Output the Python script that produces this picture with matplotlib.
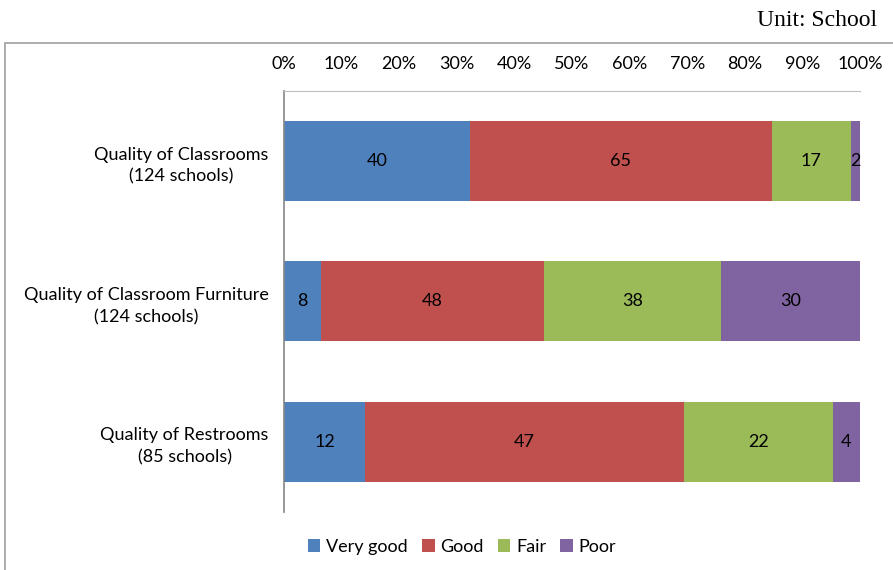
import matplotlib.pyplot as plt
from matplotlib.patches import Rectangle
from matplotlib.transforms import ScaledTranslation
import numpy as np

plt.rcParams['font.family'] = ['Lato', 'DejaVu Sans']

# school counts per rating
categories = ["Quality of Classrooms\n(124 schools)",
              "Quality of Classroom Furniture\n(124 schools)",
              "Quality of Restrooms\n(85 schools)"]
ratings = ["Very good", "Good", "Fair", "Poor"]
very_good = [40, 8, 12]
good = [65, 48, 47]
fair = [17, 38, 22]
poor = [2, 30, 4]
colors = ["#4F81BD", "#C0504D", "#9BBB59", "#8064A2"]

counts = np.array([very_good, good, fair, poor], dtype=float)
totals = counts.sum(axis=0)
shares = counts / totals * 100

fs = 13

fig = plt.figure(figsize=(8.93, 5.70), dpi=100)
ax = fig.add_axes([0.318, 0.1018, 0.645, 0.7386])

ypos = np.arange(len(categories))
left = np.zeros(len(categories))
for i in range(len(ratings)):
    bars = ax.barh(ypos, shares[i], left=left, height=0.57, color=colors[i],
                   label=ratings[i])
    for j, b in enumerate(bars):
        ax.text(left[j] + shares[i][j] / 2, ypos[j], str(int(counts[i][j])),
                ha="center", va="center", fontsize=fs, color="black")
    left += shares[i]

ax.set_xlim(0, 100)
ax.set_ylim(2.5, -0.5)
ax.set_xticks(np.arange(0, 101, 10))
ax.set_xticklabels([f"{v}%" for v in range(0, 101, 10)], fontsize=fs)
ax.xaxis.tick_top()
ax.tick_params(axis="x", length=0, pad=14)
ax.set_yticks(ypos)
ax.set_yticklabels(categories, fontsize=fs)
# nudge the two-line category labels up a few pixels
shift = ScaledTranslation(0, 3.5 / 100, fig.dpi_scale_trans)
for t in ax.get_yticklabels():
    t.set_multialignment("center")
    t.set_linespacing(1.45)
    t.set_transform(t.get_transform() + shift)
ax.tick_params(axis="y", length=0, pad=11)

ax.spines["right"].set_visible(False)
ax.spines["bottom"].set_visible(False)
ax.spines["top"].set_color("#BFBFBF")
ax.spines["left"].set_color("#868686")
ax.spines["left"].set_linewidth(1.2)

fig.legend(loc="center", bbox_to_anchor=(462 / 893, 1 - 547 / 570), ncol=4,
           frameon=False, fontsize=fs, handlelength=0.7, handleheight=0.7,
           handletextpad=0.3, columnspacing=0.8)

# outer chart frame
fig.patches.append(Rectangle((5 / 893, -0.1), 1.2, 1 - 43 / 570 + 0.1,
                             transform=fig.transFigure, fill=False,
                             edgecolor="#A0A0A0", linewidth=1.2))

fig.text(877 / 893, 1 - 20 / 570, "Unit: School", ha="right", va="center",
         fontsize=17, family="Liberation Serif")

fig.savefig("out.png", dpi=100)
